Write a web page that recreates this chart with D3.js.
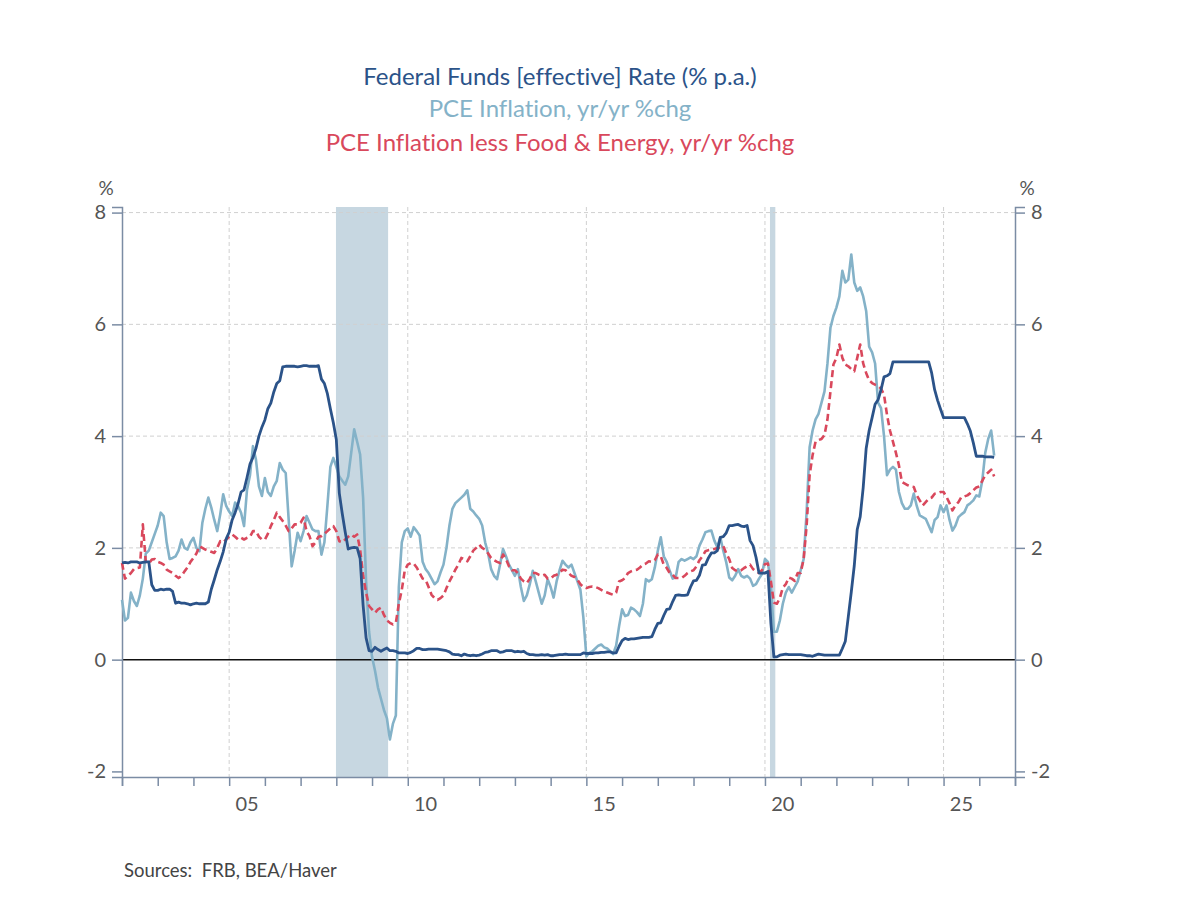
<!DOCTYPE html>
<html>
<head>
<meta charset="utf-8">
<script src="https://cdn.jsdelivr.net/npm/d3@7"></script>
<style>
  body { margin: 0; background: #fff; }
  svg text { font-family: Lato, "Open Sans", sans-serif; font-variant-ligatures: none; font-feature-settings: "liga" 0; }
</style>
</head>
<body>
<svg id="chart" width="1202" height="910"></svg>
<script>
// monthly, starting Jan 2002
const startYear = 2002;

const titleLines = [
  'Federal Funds [effective] Rate (% p.a.)',
  'PCE Inflation, yr/yr %chg',
  'PCE Inflation less Food & Energy, yr/yr %chg'
];

const fedFunds = [
  1.73, 1.74, 1.73, 1.75, 1.75, 1.75, 1.73, 1.74, 1.75, 1.75, 1.34, 1.24, // 2002
  1.24, 1.26, 1.25, 1.26, 1.26, 1.22, 1.01, 1.03, 1.01, 1.01, 1.00, 0.98, // 2003
  1.00, 1.01, 1.00, 1.00, 1.00, 1.03, 1.26, 1.43, 1.61, 1.76, 1.93, 2.16, // 2004
  2.28, 2.50, 2.63, 2.79, 3.00, 3.04, 3.26, 3.50, 3.62, 3.78, 4.00, 4.16, // 2005
  4.29, 4.49, 4.59, 4.79, 4.94, 4.99, 5.24, 5.25, 5.25, 5.25, 5.25, 5.24, // 2006
  5.25, 5.26, 5.26, 5.25, 5.25, 5.25, 5.26, 5.02, 4.94, 4.76, 4.49, 4.24, // 2007
  3.94, 2.98, 2.61, 2.28, 1.98, 2.00, 2.01, 2.00, 1.81, 0.97, 0.39, 0.16, // 2008
  0.15, 0.22, 0.18, 0.15, 0.18, 0.21, 0.16, 0.16, 0.15, 0.12, 0.12, 0.12, // 2009
  0.11, 0.13, 0.16, 0.20, 0.20, 0.18, 0.18, 0.19, 0.19, 0.19, 0.19, 0.18, // 2010
  0.17, 0.16, 0.14, 0.10, 0.09, 0.09, 0.07, 0.10, 0.08, 0.07, 0.08, 0.07, // 2011
  0.08, 0.10, 0.13, 0.14, 0.16, 0.16, 0.16, 0.13, 0.14, 0.16, 0.16, 0.16, // 2012
  0.14, 0.15, 0.14, 0.15, 0.11, 0.09, 0.09, 0.08, 0.08, 0.09, 0.08, 0.09, // 2013
  0.07, 0.07, 0.08, 0.09, 0.09, 0.10, 0.09, 0.09, 0.09, 0.09, 0.09, 0.12, // 2014
  0.11, 0.11, 0.11, 0.12, 0.12, 0.13, 0.13, 0.14, 0.14, 0.12, 0.12, 0.24, // 2015
  0.34, 0.38, 0.36, 0.37, 0.37, 0.38, 0.39, 0.40, 0.40, 0.40, 0.41, 0.54, // 2016
  0.65, 0.66, 0.79, 0.90, 0.91, 1.04, 1.15, 1.16, 1.15, 1.15, 1.16, 1.30, // 2017
  1.41, 1.42, 1.51, 1.69, 1.70, 1.82, 1.91, 1.91, 1.95, 2.19, 2.20, 2.27, // 2018
  2.40, 2.40, 2.41, 2.42, 2.39, 2.38, 2.40, 2.13, 2.04, 1.83, 1.55, 1.55, // 2019
  1.55, 1.58, 0.65, 0.05, 0.05, 0.08, 0.09, 0.10, 0.09, 0.09, 0.09, 0.09, // 2020
  0.09, 0.08, 0.07, 0.07, 0.06, 0.08, 0.10, 0.09, 0.08, 0.08, 0.08, 0.08, // 2021
  0.08, 0.08, 0.20, 0.33, 0.77, 1.21, 1.68, 2.33, 2.56, 3.08, 3.78, 4.10, // 2022
  4.33, 4.57, 4.65, 4.83, 5.06, 5.08, 5.12, 5.33, 5.33, 5.33, 5.33, 5.33, // 2023
  5.33, 5.33, 5.33, 5.33, 5.33, 5.33, 5.33, 5.33, 5.13, 4.83, 4.64, 4.48, // 2024
  4.33, 4.33, 4.33, 4.33, 4.33, 4.33, 4.33, 4.33, 4.22, 4.09, 3.88, 3.64, // 2025
  3.64, 3.64, 3.63, 3.63, 3.63, 3.62                                      // 2026
];

const pceInfl = [
  1.07, 0.70, 0.75, 1.20, 1.05, 0.96, 1.15, 1.45, 1.90, 1.95, 2.10, 2.25, // 2002
  2.40, 2.63, 2.57, 2.10, 1.80, 1.82, 1.85, 1.95, 2.15, 2.00, 1.97, 2.10, // 2003
  2.18, 2.00, 1.94, 2.45, 2.70, 2.90, 2.72, 2.50, 2.30, 2.60, 2.96, 2.75, // 2004
  2.65, 2.57, 2.81, 2.75, 2.63, 2.39, 3.04, 3.30, 3.82, 3.58, 3.10, 2.93, // 2005
  3.25, 3.00, 2.93, 3.10, 3.20, 3.52, 3.40, 3.34, 2.50, 1.67, 1.95, 2.27, // 2006
  2.12, 2.30, 2.57, 2.45, 2.33, 2.30, 2.30, 1.88, 2.10, 2.75, 3.45, 3.61, // 2007
  3.45, 3.28, 3.20, 3.13, 3.28, 3.70, 4.12, 3.90, 3.67, 2.90, 1.40, 0.50, // 2008
  0.05, -0.20, -0.50, -0.70, -0.90, -1.05, -1.43, -1.15, -1.00, 1.30, 2.10, 2.30, // 2009
  2.35, 2.20, 2.37, 2.30, 2.22, 1.75, 1.62, 1.55, 1.45, 1.35, 1.40, 1.56, // 2010
  1.70, 2.00, 2.40, 2.70, 2.80, 2.85, 2.90, 2.95, 3.03, 2.70, 2.65, 2.58, // 2011
  2.52, 2.40, 2.10, 1.90, 1.62, 1.50, 1.44, 1.70, 1.98, 1.85, 1.70, 1.60, // 2012
  1.50, 1.62, 1.30, 1.05, 1.15, 1.35, 1.59, 1.40, 1.20, 1.00, 1.15, 1.44, // 2013
  1.30, 1.11, 1.40, 1.60, 1.77, 1.70, 1.65, 1.70, 1.55, 1.40, 1.25, 0.75, // 2014
  0.06, 0.12, 0.15, 0.20, 0.25, 0.27, 0.22, 0.20, 0.15, 0.10, 0.25, 0.60, // 2015
  0.90, 0.78, 0.80, 0.93, 0.90, 0.85, 0.78, 1.00, 1.44, 1.40, 1.44, 1.65, // 2016
  1.95, 2.19, 1.85, 1.75, 1.59, 1.45, 1.47, 1.75, 1.80, 1.77, 1.80, 1.83, // 2017
  1.80, 1.85, 2.04, 2.15, 2.28, 2.30, 2.31, 2.13, 2.01, 2.19, 1.95, 1.74, // 2018
  1.47, 1.42, 1.50, 1.62, 1.50, 1.47, 1.50, 1.45, 1.32, 1.35, 1.45, 1.53, // 2019
  1.80, 1.75, 1.30, 0.50, 0.50, 0.70, 1.00, 1.20, 1.30, 1.20, 1.30, 1.40, // 2020
  1.60, 1.80, 2.64, 3.80, 4.10, 4.30, 4.40, 4.60, 4.80, 5.30, 5.94, 6.15, // 2021
  6.30, 6.50, 6.96, 6.75, 6.80, 7.25, 6.75, 6.60, 6.66, 6.50, 6.24, 5.60, // 2022
  5.50, 5.30, 4.60, 4.50, 4.00, 3.30, 3.40, 3.45, 3.40, 3.00, 2.80, 2.70, // 2023
  2.70, 2.76, 2.97, 2.75, 2.58, 2.55, 2.52, 2.40, 2.28, 2.50, 2.55, 2.76, // 2024
  2.64, 2.76, 2.50, 2.31, 2.40, 2.55, 2.60, 2.64, 2.76, 2.80, 2.85, 2.94, // 2025
  2.92, 3.20, 3.70, 3.95, 4.10, 3.65                                      // 2026
];

const corePce = [
  1.73, 1.45, 1.50, 1.55, 1.62, 1.64, 1.65, 2.42, 1.75, 1.72, 1.79, 1.80, // 2002
  1.75, 1.73, 1.70, 1.61, 1.58, 1.55, 1.50, 1.46, 1.50, 1.58, 1.65, 1.75, // 2003
  1.82, 1.90, 2.03, 2.00, 1.97, 1.95, 1.93, 1.91, 2.00, 2.12, 2.10, 2.15, // 2004
  2.20, 2.24, 2.20, 2.15, 2.18, 2.15, 2.18, 2.20, 2.30, 2.30, 2.20, 2.15, // 2005
  2.15, 2.25, 2.39, 2.50, 2.63, 2.55, 2.48, 2.40, 2.30, 2.35, 2.42, 2.42, // 2006
  2.45, 2.54, 2.30, 2.21, 2.03, 2.10, 2.20, 2.21, 2.25, 2.30, 2.35, 2.39, // 2007
  2.30, 2.12, 2.10, 2.15, 2.20, 2.24, 2.20, 2.24, 1.97, 1.50, 1.20, 0.96, // 2008
  0.90, 0.84, 0.90, 0.93, 0.80, 0.70, 0.66, 0.63, 0.66, 1.00, 1.25, 1.60, // 2009
  1.70, 1.73, 1.72, 1.65, 1.55, 1.45, 1.43, 1.30, 1.16, 1.10, 1.07, 1.10, // 2010
  1.15, 1.28, 1.40, 1.50, 1.61, 1.70, 1.82, 1.80, 1.76, 1.85, 1.95, 2.00, // 2011
  2.06, 2.00, 1.97, 1.90, 1.82, 1.78, 1.75, 1.73, 1.88, 1.80, 1.67, 1.60, // 2012
  1.60, 1.55, 1.45, 1.40, 1.37, 1.45, 1.55, 1.55, 1.52, 1.50, 1.52, 1.45, // 2013
  1.45, 1.50, 1.52, 1.55, 1.61, 1.60, 1.55, 1.50, 1.48, 1.43, 1.35, 1.30, // 2014
  1.28, 1.30, 1.31, 1.30, 1.28, 1.25, 1.22, 1.20, 1.18, 1.16, 1.20, 1.40, // 2015
  1.42, 1.46, 1.55, 1.58, 1.60, 1.61, 1.65, 1.70, 1.72, 1.76, 1.75, 1.78, // 2016
  1.88, 1.85, 1.70, 1.64, 1.55, 1.52, 1.46, 1.46, 1.46, 1.50, 1.55, 1.58, // 2017
  1.60, 1.67, 1.78, 1.85, 1.94, 1.96, 1.97, 1.98, 2.00, 2.00, 2.03, 1.90, // 2018
  1.80, 1.64, 1.60, 1.58, 1.60, 1.64, 1.67, 1.70, 1.62, 1.58, 1.55, 1.60, // 2019
  1.71, 1.72, 1.40, 1.02, 1.00, 1.10, 1.29, 1.35, 1.47, 1.45, 1.41, 1.55, // 2020
  1.55, 1.80, 2.40, 3.30, 3.66, 3.90, 3.93, 3.95, 4.02, 4.30, 4.80, 5.28, // 2021
  5.40, 5.64, 5.40, 5.28, 5.25, 5.20, 5.16, 5.40, 5.64, 5.30, 5.13, 5.00, // 2022
  4.95, 4.92, 4.90, 4.85, 4.74, 4.38, 4.10, 3.90, 3.70, 3.48, 3.18, 3.15, // 2023
  3.12, 3.10, 3.09, 2.94, 2.85, 2.76, 2.82, 2.88, 2.90, 2.97, 2.98, 3.00, // 2024
  3.00, 2.91, 2.80, 2.67, 2.76, 2.82, 2.91, 2.92, 2.94, 2.98, 3.03, 3.08, // 2025
  3.10, 3.20, 3.30, 3.35, 3.40, 3.28                                      // 2026
];

// NBER recessions (decimal years)
const recessions = [[2007.99, 2009.45], [2020.14, 2020.29]];

const yTicks = [-2, 0, 2, 4, 6, 8];
const yGrid = [2, 4, 6, 8];
const xLabelYears = [2005, 2010, 2015, 2020, 2025];
const xLabels = ['05', '10', '15', '20', '25'];

const colors = { fed: '#2b5389', pce: '#84b2c8', core: '#d9485c', axis: '#7b8ca4', grid: '#d0d0d0' };

const svg = d3.select('#chart');
const margin = { top: 207, right: 187, bottom: 133, left: 122 };
const width = 1202, height = 910;

const x = d3.scaleLinear().domain([2002, 2027]).range([margin.left, width - margin.right]);
const y = d3.scaleLinear().domain([-2.1, 8.1]).range([height - margin.bottom, margin.top]);

const toPoints = arr => arr.map((v, i) => ({ date: startYear + i / 12, value: v }));

// title
svg.append('g').selectAll('text')
  .data(titleLines)
  .join('text')
  .attr('x', 560)
  .attr('y', (d, i) => [85, 117, 151][i])
  .attr('text-anchor', 'middle')
  .attr('font-size', 24)
  .attr('fill', (d, i) => [colors.fed, colors.pce, colors.core][i])
  .text(d => d);

// recession shading
svg.append('g').selectAll('rect')
  .data(recessions)
  .join('rect')
  .attr('x', d => x(d[0]))
  .attr('width', d => x(d[1]) - x(d[0]))
  .attr('y', y(8.1))
  .attr('height', y(-2.1) - y(8.1))
  .attr('fill', '#c7d7e1');

// grid
svg.append('g').selectAll('line')
  .data(yGrid)
  .join('line')
  .attr('x1', x(2002)).attr('x2', x(2027))
  .attr('y1', d => y(d)).attr('y2', d => y(d))
  .attr('stroke', colors.grid).attr('stroke-dasharray', '4,3');

svg.append('g').selectAll('line')
  .data(xLabelYears)
  .join('line')
  .attr('x1', d => x(d)).attr('x2', d => x(d))
  .attr('y1', y(8.1)).attr('y2', y(-2.1))
  .attr('stroke', colors.grid).attr('stroke-dasharray', '4,3');

// zero line
svg.append('line')
  .attr('x1', x(2002)).attr('x2', x(2027))
  .attr('y1', y(0)).attr('y2', y(0))
  .attr('stroke', '#111').attr('stroke-width', 1.5);

// axes
const tickFmt = d => String(d);

const leftAxis = g => g
  .attr('transform', `translate(${x(2002)},0)`)
  .call(d3.axisLeft(y).tickValues(yTicks).tickSize(10).tickPadding(6).tickFormat(tickFmt))
  .call(g => g.select('.domain').attr('stroke', colors.axis).attr('stroke-width', 1.5))
  .call(g => g.selectAll('.tick line').attr('stroke', colors.axis).attr('stroke-width', 1.5))
  .call(g => g.selectAll('.tick text').attr('fill', '#555').attr('font-size', 20).attr('font-family', 'Lato'));

const rightAxis = g => g
  .attr('transform', `translate(${x(2027)},0)`)
  .call(d3.axisRight(y).tickValues(yTicks).tickSize(10).tickPadding(6).tickFormat(tickFmt))
  .call(g => g.select('.domain').attr('stroke', colors.axis).attr('stroke-width', 1.5))
  .call(g => g.selectAll('.tick line').attr('stroke', colors.axis).attr('stroke-width', 1.5))
  .call(g => g.selectAll('.tick text').attr('fill', '#555').attr('font-size', 20).attr('font-family', 'Lato'));

const bottomAxis = g => g
  .attr('transform', `translate(0,${y(-2.1)})`)
  .call(d3.axisBottom(x).tickValues(d3.range(2002, 2028)).tickSize(9).tickFormat(''))
  .call(g => g.select('.domain').attr('stroke', colors.axis).attr('stroke-width', 1.5))
  .call(g => g.selectAll('.tick line').attr('stroke', colors.axis).attr('stroke-width', 1.5));

svg.append('g').call(leftAxis);
svg.append('g').call(rightAxis);
svg.append('g').call(bottomAxis);

svg.append('g').selectAll('text')
  .data(xLabelYears)
  .join('text')
  .attr('x', d => x(d + 0.5))
  .attr('y', 811)
  .attr('text-anchor', 'middle')
  .attr('font-size', 20)
  .attr('fill', '#555')
  .text((d, i) => xLabels[i]);

// % units
svg.append('text').attr('x', 106).attr('y', 195).attr('text-anchor', 'middle')
  .attr('font-size', 19).attr('fill', '#555').text('%');
svg.append('text').attr('x', 1027).attr('y', 195).attr('text-anchor', 'middle')
  .attr('font-size', 19).attr('fill', '#555').text('%');

// lines
const line = d3.line()
  .x(d => x(d.date))
  .y(d => y(d.value));

svg.append('path')
  .datum(toPoints(pceInfl))
  .attr('fill', 'none')
  .attr('stroke', colors.pce)
  .attr('stroke-width', 2.6)
  .attr('stroke-linejoin', 'round')
  .attr('d', line);

svg.append('path')
  .datum(toPoints(corePce))
  .attr('fill', 'none')
  .attr('stroke', colors.core)
  .attr('stroke-width', 2.6)
  .attr('stroke-dasharray', '7,4')
  .attr('stroke-linejoin', 'round')
  .attr('d', line);

svg.append('path')
  .datum(toPoints(fedFunds))
  .attr('fill', 'none')
  .attr('stroke', colors.fed)
  .attr('stroke-width', 2.8)
  .attr('stroke-linejoin', 'round')
  .attr('d', line);

// source note
svg.append('text')
  .attr('x', 124).attr('y', 877)
  .attr('font-size', 18.5)
  .attr('fill', '#444')
  .attr('xml:space', 'preserve')
  .text('Sources:  FRB, BEA/Haver');
</script>
</body>
</html>
